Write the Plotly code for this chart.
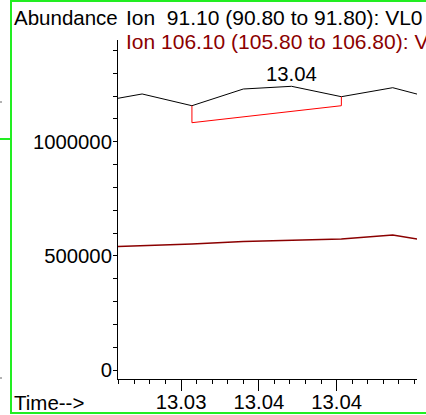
import plotly.graph_objects as go

# ---- data ----
scan_times = [13.0243, 13.0275, 13.0307, 13.0340, 13.0371, 13.0403, 13.0436, 13.0468]
ion_91_abund = [1170000, 1209000, 1157600, 1230800, 1242600, 1197100, 1236500, 1179100]
ion_106_abund = [536500, 544000, 551900, 562800, 569400, 573800, 591300, 556300]

peak_start_time = 13.0307
peak_end_time = 13.0403
baseline_start = 1083200
baseline_end = 1157600
peak_label_time = [13.0371]
peak_label_abund = [1242600]
peak_labels = ["13.04"]

x_tick_vals = [13.030, 13.035, 13.040]
x_tick_text = ["13.03", "13.04", "13.04"]
y_tick_vals = [0, 500000, 1000000]
y_tick_text = ["0", "500000", "1000000"]

title_91 = "Ion \u00a091.10 (90.80 to 91.80): VL0"
title_106 = "Ion 106.10 (105.80 to 106.80): V"

FONT = "Liberation Sans, Arial, sans-serif"
FS = 20.5
FS_TICK = 20.3
FS_TITLE = 21

fig = go.Figure()
fig.add_trace(go.Scatter(x=scan_times, y=ion_91_abund, mode="lines",
                         line=dict(color="#000000", width=1), hoverinfo="skip"))
fig.add_trace(go.Scatter(x=scan_times, y=ion_106_abund, mode="lines",
                         line=dict(color="#8b0000", width=1.5), hoverinfo="skip"))
# integration baseline
fig.add_trace(go.Scatter(
    x=[peak_start_time, peak_start_time, peak_end_time, peak_end_time],
    y=[ion_91_abund[2], baseline_start, baseline_end, ion_91_abund[5]],
    mode="lines", line=dict(color="#ff0000", width=1), hoverinfo="skip"))

W, H = 426, 415
L, R, T, B = 118, 9, 40, 36
pw = W - L - R
ph = H - T - B

def px(xp):
    return (xp - L) / pw

def py(yp):
    return (H - B - yp) / ph

annotations = []
for t, a, s in zip(peak_label_time, peak_label_abund, peak_labels):
    annotations.append(dict(x=t, y=a, xref="x", yref="y", text=s, showarrow=False,
                            xanchor="center", yanchor="middle", yshift=12,
                            font=dict(family=FONT, size=FS_TICK, color="#000000")))
annotations += [
    dict(x=px(12), y=py(17), xref="paper", yref="paper", text="Abundance", showarrow=False,
         xanchor="left", yanchor="middle", font=dict(family=FONT, size=FS, color="#000000")),
    dict(x=px(124), y=py(17), xref="paper", yref="paper", text=title_91, showarrow=False,
         xanchor="left", yanchor="middle", font=dict(family=FONT, size=FS_TITLE, color="#000000")),
    dict(x=px(124), y=py(42), xref="paper", yref="paper", text=title_106, showarrow=False,
         xanchor="left", yanchor="middle", font=dict(family=FONT, size=FS_TITLE, color="#8b0000")),
    dict(x=px(12), y=py(402), xref="paper", yref="paper", text="Time-->", showarrow=False,
         xanchor="left", yanchor="middle", font=dict(family=FONT, size=FS, color="#000000")),
]

green = "#22ee22"
shapes = [
    dict(type="line", xref="paper", yref="paper", x0=px(11), x1=px(11), y0=py(0), y1=py(414),
         line=dict(color=green, width=2)),
    dict(type="line", xref="paper", yref="paper", x0=px(11), x1=px(430), y0=py(1), y1=py(1),
         line=dict(color=green, width=2)),
    dict(type="line", xref="paper", yref="paper", x0=px(11), x1=px(430), y0=py(413), y1=py(413),
         line=dict(color=green, width=2)),
    dict(type="line", xref="paper", yref="paper", x0=px(0), x1=px(11), y0=py(139), y1=py(139),
         line=dict(color=green, width=2)),
    dict(type="line", xref="paper", yref="paper", x0=px(0), x1=px(2), y0=py(102), y1=py(102),
         line=dict(color="#666666", width=1)),
    dict(type="line", xref="paper", yref="paper", x0=px(0), x1=px(2), y0=py(378), y1=py(378),
         line=dict(color="#666666", width=1)),
]

fig.update_layout(
    width=W, height=H,
    margin=dict(l=L, r=R, t=T, b=B, pad=0, autoexpand=False),
    paper_bgcolor="white", plot_bgcolor="white",
    showlegend=False, hovermode=False,
    annotations=annotations, shapes=shapes,
    font=dict(family=FONT, size=FS, color="#000000"),
)
fig.update_xaxes(
    range=[13.02595, 13.04516], showgrid=False, zeroline=False, automargin=False,
    showline=True, linecolor="#000000", linewidth=1,
    tickmode="array", tickvals=x_tick_vals, ticktext=x_tick_text,
    ticks="outside", ticklen=11, tickwidth=1, tickcolor="#000000",
    ticklabelstandoff=-6,
    tickfont=dict(family=FONT, size=FS_TICK, color="#000000"),
    minor=dict(tickmode="linear", tick0=13.026, dtick=0.001, ticks="outside",
               ticklen=4, tickwidth=1, tickcolor="#000000", showgrid=False),
)
fig.update_yaxes(
    range=[-39400, 1445400], showgrid=False, zeroline=False, automargin=False,
    showline=True, linecolor="#000000", linewidth=1,
    tickmode="array", tickvals=y_tick_vals, ticktext=y_tick_text,
    ticks="outside", ticklen=4, tickwidth=1, tickcolor="#000000",
    ticklabelstandoff=-3,
    tickfont=dict(family=FONT, size=FS_TICK, color="#000000"),
    minor=dict(tickmode="linear", tick0=0, dtick=100000, ticks="outside",
               ticklen=4, tickwidth=1, tickcolor="#000000", showgrid=False),
)

fig.write_html("out.html", config={"displayModeBar": False},
               post_script="document.body.style.margin='0';document.body.style.overflow='hidden';")
